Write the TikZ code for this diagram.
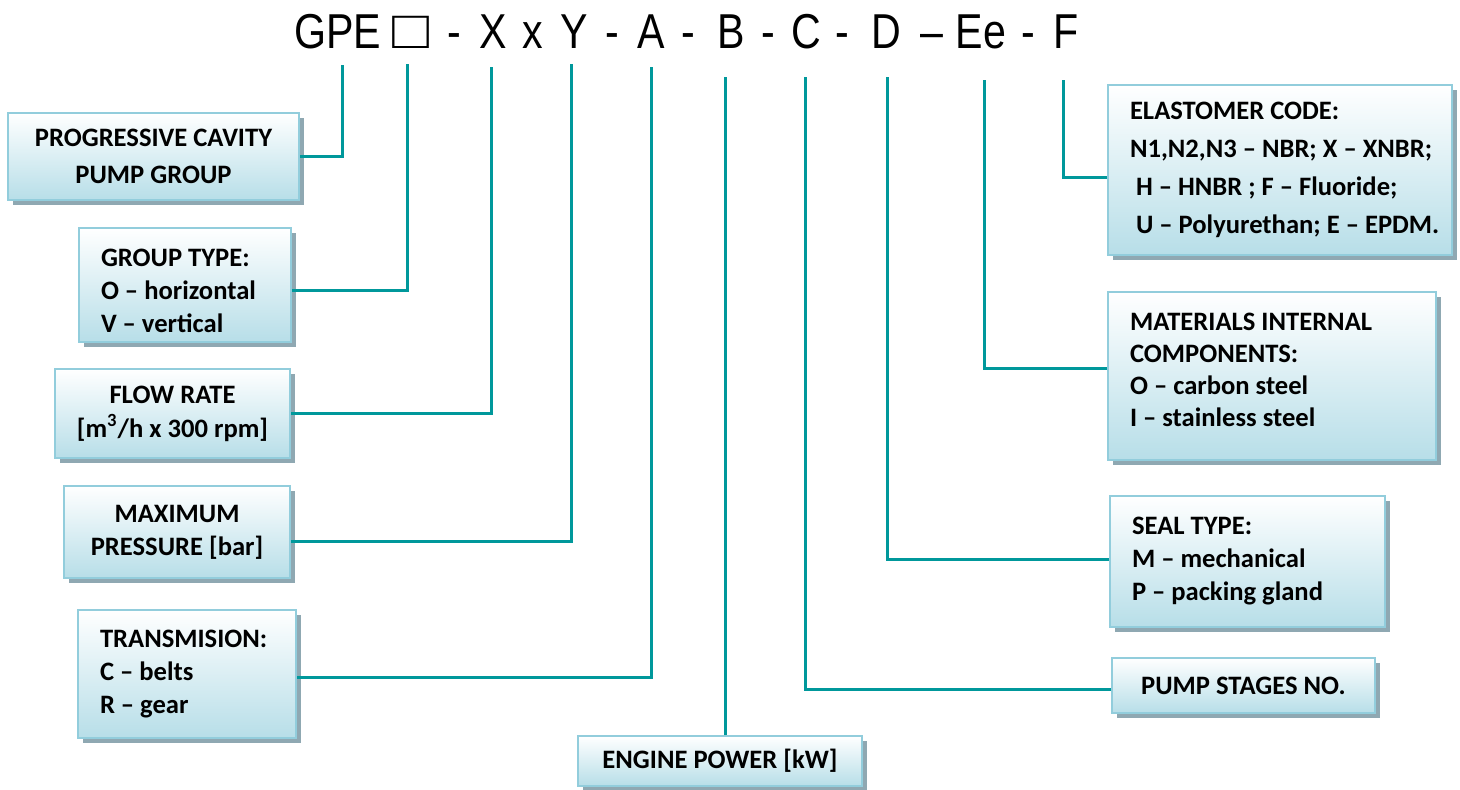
\documentclass[tikz,border=0pt]{standalone}
\usepackage{fontspec}
\setmainfont{Carlito}
\newfontfamily\titlefont{Liberation Sans}
\usetikzlibrary{shadows}
\definecolor{teal1}{RGB}{0,152,155}
\definecolor{boxborder}{RGB}{146,205,220}
\definecolor{boxbottom}{RGB}{183,222,232}
\definecolor{shadowc}{RGB}{143,168,178}
\newcommand{\nar}[1]{\scalebox{0.84}[1]{#1}}
\tikzset{
  infobox/.style={draw=boxborder, line width=1pt, top color=white, bottom color=boxbottom,
    drop shadow={shadow xshift=2.5pt, shadow yshift=-2.5pt, fill=shadowc, opacity=1},
    font=\bfseries\fontsize{13.3}{16.5}\selectfont, inner xsep=11pt, inner ysep=0pt},
  conn/.style={draw=teal1, line width=1.5pt},
  tlet/.style={anchor=base, inner sep=0pt, font=\titlefont\fontsize{24.5}{30}\selectfont},
}
\begin{document}
\begin{tikzpicture}[x=0.5pt,y=-0.5pt]
\useasboundingbox (0,0) rectangle (1460,790);

% title, token by token
\node[tlet] (gpe) at (337.5,49) {\nar{GPE}};
\node[tlet] (sq) at (410.5,49) {\scalebox{1.25}[1.1]{□}};
\node[tlet] (h1) at (454,49) {\nar{-}};
\node[tlet] (lX) at (493,49) {\nar{X}};
\node[tlet] (lx) at (533,49) {\nar{x}};
\node[tlet] (lY) at (574,49) {\nar{Y}};
\node[tlet] (h2) at (612,49) {\nar{-}};
\node[tlet] (lA) at (651,49) {\nar{A}};
\node[tlet] (h3) at (688,49) {\nar{-}};
\node[tlet] (lB) at (731,49) {\nar{B}};
\node[tlet] (h4) at (768,49) {\nar{-}};
\node[tlet] (lC) at (806,49) {\nar{C}};
\node[tlet] (h5) at (842,49) {\nar{-}};
\node[tlet] (lD) at (886,49) {\nar{D}};
\node[tlet] (h6) at (932,49) {\nar{–}};
\node[tlet] (lEe) at (981,49) {\nar{Ee}};
\node[tlet] (h7) at (1028,49) {\nar{-}};
\node[tlet] (lF) at (1066,49) {\nar{F}};

\coordinate (tP) at (342,65);
\coordinate (tQ) at (407,64);
\coordinate (tX) at (491,67);
\coordinate (tY) at (571,64);
\coordinate (tA) at (651,67);
\coordinate (tB) at (725,77);
\coordinate (tC) at (805,77);
\coordinate (tD) at (887,77);
\coordinate (tE) at (984,80);
\coordinate (tF) at (1063,80);

\node[infobox, minimum width=145.5pt, minimum height=43.5pt, align=center, inner xsep=0pt,
  font=\bfseries\fontsize{13.3}{18.5}\selectfont] (prog) at (153.5,156.5) {PROGRESSIVE CAVITY\\PUMP GROUP};
\node[infobox, minimum width=106pt, minimum height=57pt, text width=84pt, align=flush left] (group) at (185,285)
  {\rule{0pt}{14.6pt}GROUP TYPE:\\O – horizontal\\V – vertical};
\node[infobox, minimum width=117.5pt, minimum height=44.5pt, align=center, inner xsep=0pt,
  font=\bfseries\fontsize{13.3}{17}\selectfont] (flow) at (172.5,413.5) {FLOW RATE\\{[m\textsuperscript{3}/h x 300 rpm]}};
\node[infobox, minimum width=113pt, minimum height=46pt, align=center, inner xsep=0pt] (maxp) at (177,532)
  {MAXIMUM\\PRESSURE [bar]};
\node[infobox, minimum width=109pt, minimum height=64pt, text width=87pt, align=flush left] (trans) at (187,674)
  {TRANSMISION:\\C – belts\\R – gear};
\node[infobox, minimum width=142pt, minimum height=25pt, align=center, inner xsep=0pt] (engine) at (720,761)
  {ENGINE POWER [kW]};
\node[infobox, minimum width=131.5pt, minimum height=27.5pt, align=center, inner xsep=0pt] (stages) at (1243.5,685.5)
  {PUMP STAGES NO.};
\node[infobox, minimum width=137.5pt, minimum height=65.5pt, text width=115.5pt, align=flush left] (seal) at (1247.5,561.5)
  {SEAL TYPE:\\M – mechanical\\P – packing gland};
\node[infobox, minimum width=164pt, minimum height=84pt, text width=142pt, align=flush left,
  font=\bfseries\fontsize{13.3}{16}\selectfont] (mat) at (1272,376)
  {MATERIALS INTERNAL\\COMPONENTS:\\O – carbon steel\\I – stainless steel\rule[-6pt]{0pt}{0pt}};
\node[infobox, minimum width=172pt, minimum height=85pt, text width=150pt, inner xsep=11pt, align=flush left,
  font=\bfseries\fontsize{13.3}{19}\selectfont] (elast) at (1280,170)
  {\mbox{ELASTOMER CODE:}\\\mbox{N1,N2,N3 – NBR; X – XNBR;}\\\mbox{\ H – HNBR ; F – Fluoride;}\\\mbox{\ U – Polyurethan; E – EPDM.}};

\draw[conn] (prog.east) -| (tP);
\draw[conn] (group.east) ++(0,6) -| (tQ);
\draw[conn] (flow.east) -| (tX);
\draw[conn] (maxp.east) ++(0,9) -| (tY);
\draw[conn] (trans.east) ++(0,3) -| (tA);
\draw[conn] (engine.north -| tB) -- (tB);
\draw[conn] (stages.west) ++(0,3.5) -| (tC);
\draw[conn] (seal.west) ++(0,-2.5) -| (tD);
\draw[conn] (mat.west) ++(0,-7) -| (tE);
\draw[conn] (elast.west) ++(0,8) -| (tF);
\end{tikzpicture}
\end{document}
